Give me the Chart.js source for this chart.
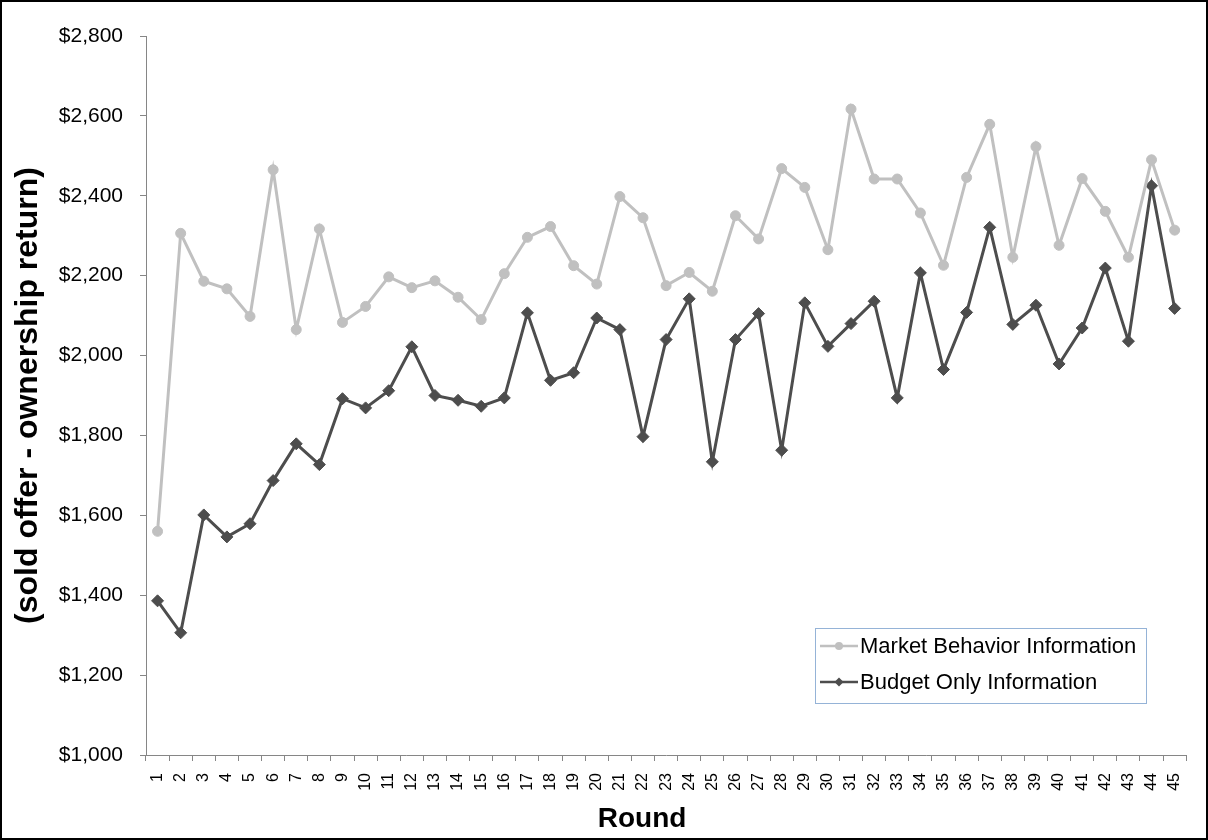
<!DOCTYPE html>
<html>
<head>
<meta charset="utf-8">
<script src="https://cdn.jsdelivr.net/npm/chart.js@4.4.1/dist/chart.umd.min.js"></script>
<style>
  body { margin: 0; background: #fff; }
  #frame { width: 1208px; height: 840px; box-sizing: border-box; border: 2px solid #000; background: #fff; }
  canvas { display: block; }
</style>
</head>
<body>
<div id="frame"><canvas id="roundChart" width="1204" height="836"></canvas></div>
<script>
// rounds 1..45
const rounds = [];
for (let r = 1; r <= 45; r++) rounds.push(String(r));

// values
const marketBehavior = [1560, 2306, 2186, 2167, 2098, 2465, 2065, 2317, 2083, 2123,
  2197, 2170, 2187, 2146, 2090, 2205, 2296, 2323, 2225, 2179,
  2398, 2345, 2175, 2208, 2161, 2350, 2292, 2468, 2421, 2265,
  2617, 2442, 2442, 2357, 2226, 2446, 2579, 2246, 2523, 2276,
  2443, 2361, 2246, 2490, 2314];

const budgetOnly = [1386, 1306, 1601, 1546, 1579, 1687, 1779, 1727, 1892, 1869,
  1912, 2022, 1900, 1888, 1873, 1894, 2107, 1938, 1957, 2094,
  2065, 1797, 2040, 2142, 1734, 2040, 2105, 1763, 2132, 2023,
  2080, 2136, 1894, 2207, 1965, 2108, 2321, 2078, 2126, 1979,
  2069, 2219, 2036, 2425, 2118];

const seriesNames = ['Market Behavior Information', 'Budget Only Information'];
const yTicks = [1000, 1200, 1400, 1600, 1800, 2000, 2200, 2400, 2600, 2800];
const xTitle = 'Round';
const yTitle = '(sold offer - ownership return)';

const axisGray = '#868686';
const FONT = "'Liberation Sans', Arial, sans-serif";

// legend box + x title, Excel style
const boxLegend = {
  id: 'boxLegend',
  afterDraw(chart) {
    const ctx = chart.ctx;
    const area = chart.chartArea;
    ctx.save();

    // x axis title
    ctx.fillStyle = '#000';
    ctx.font = 'bold 28px ' + FONT;
    ctx.textAlign = 'center';
    ctx.textBaseline = 'alphabetic';
    ctx.fillText(xTitle, (area.left + area.right) / 2 - 24, 825);

    // legend box
    const bx = 813.5, by = 626.5, bw = 331, bh = 75;
    ctx.strokeStyle = '#95b3d7';
    ctx.lineWidth = 1;
    ctx.strokeRect(bx, by, bw, bh);

    chart.data.datasets.forEach((ds, i) => {
      const y = 644 + i * 36;
      ctx.strokeStyle = ds.borderColor;
      ctx.lineWidth = 2.5;
      ctx.beginPath();
      ctx.moveTo(818, y);
      ctx.lineTo(856, y);
      ctx.stroke();

      ctx.fillStyle = ds.borderColor;
      ctx.beginPath();
      if (ds.pointStyle === 'rectRot') {
        const r = 4.5;
        ctx.moveTo(837 - r, y);
        ctx.lineTo(837, y - r);
        ctx.lineTo(837 + r, y);
        ctx.lineTo(837, y + r);
        ctx.closePath();
      } else {
        ctx.arc(837, y, 4, 0, Math.PI * 2);
      }
      ctx.fill();

      ctx.fillStyle = '#000';
      ctx.font = '22px ' + FONT;
      ctx.textAlign = 'left';
      ctx.textBaseline = 'middle';
      ctx.fillText(ds.label, 858, y + 1);
    });
    ctx.restore();
  }
};

const ctx = document.getElementById('roundChart').getContext('2d');
new Chart(ctx, {
  type: 'line',
  data: {
    labels: rounds,
    datasets: [{
      label: seriesNames[0],
      data: marketBehavior,
      borderColor: '#c0c0c0',
      backgroundColor: '#c0c0c0',
      borderWidth: 3,
      pointStyle: 'circle',
      pointRadius: 5,
      pointBorderWidth: 1,
      pointBackgroundColor: '#c0c0c0',
      pointBorderColor: '#c0c0c0',
      tension: 0
    }, {
      label: seriesNames[1],
      data: budgetOnly,
      borderColor: '#4d4d4d',
      backgroundColor: '#4d4d4d',
      borderWidth: 3,
      pointStyle: 'rectRot',
      pointRadius: 6,
      pointBorderWidth: 1,
      pointBackgroundColor: '#4d4d4d',
      pointBorderColor: '#4d4d4d',
      tension: 0
    }]
  },
  options: {
    responsive: false,
    animation: false,
    layout: { padding: { top: 34, right: 14, left: 0, bottom: 0 } },
    plugins: {
      legend: { display: false },
      tooltip: { enabled: false }
    },
    scales: {
      x: {
        offset: true,
        grid: { offset: true, drawOnChartArea: false, drawTicks: true, tickLength: 6, color: axisGray },
        border: { color: axisGray, width: 1 },
        ticks: {
          autoSkip: false,
          minRotation: 90,
          maxRotation: 90,
          padding: 12,
          color: '#000',
          font: { family: FONT, size: 16 }
        },
        afterFit(scale) { scale.height = 83; }
      },
      y: {
        min: yTicks[0],
        max: yTicks[yTicks.length - 1],
        afterBuildTicks(scale) { scale.ticks = yTicks.map(v => ({ value: v })); },
        grid: { drawOnChartArea: false, drawTicks: true, tickLength: 6, color: axisGray },
        border: { color: axisGray, width: 1 },
        ticks: {
          padding: 17,
          color: '#000',
          font: { family: FONT, size: 21 },
          callback: v => '$' + v.toLocaleString('en-US')
        },
        title: {
          display: true,
          text: yTitle,
          color: '#000',
          font: { family: FONT, size: 32, weight: 'bold' },
          padding: { top: 7, bottom: 0 }
        },
        afterFit(scale) { scale.width = 144; }
      }
    }
  },
  plugins: [boxLegend]
});
</script>
</body>
</html>
